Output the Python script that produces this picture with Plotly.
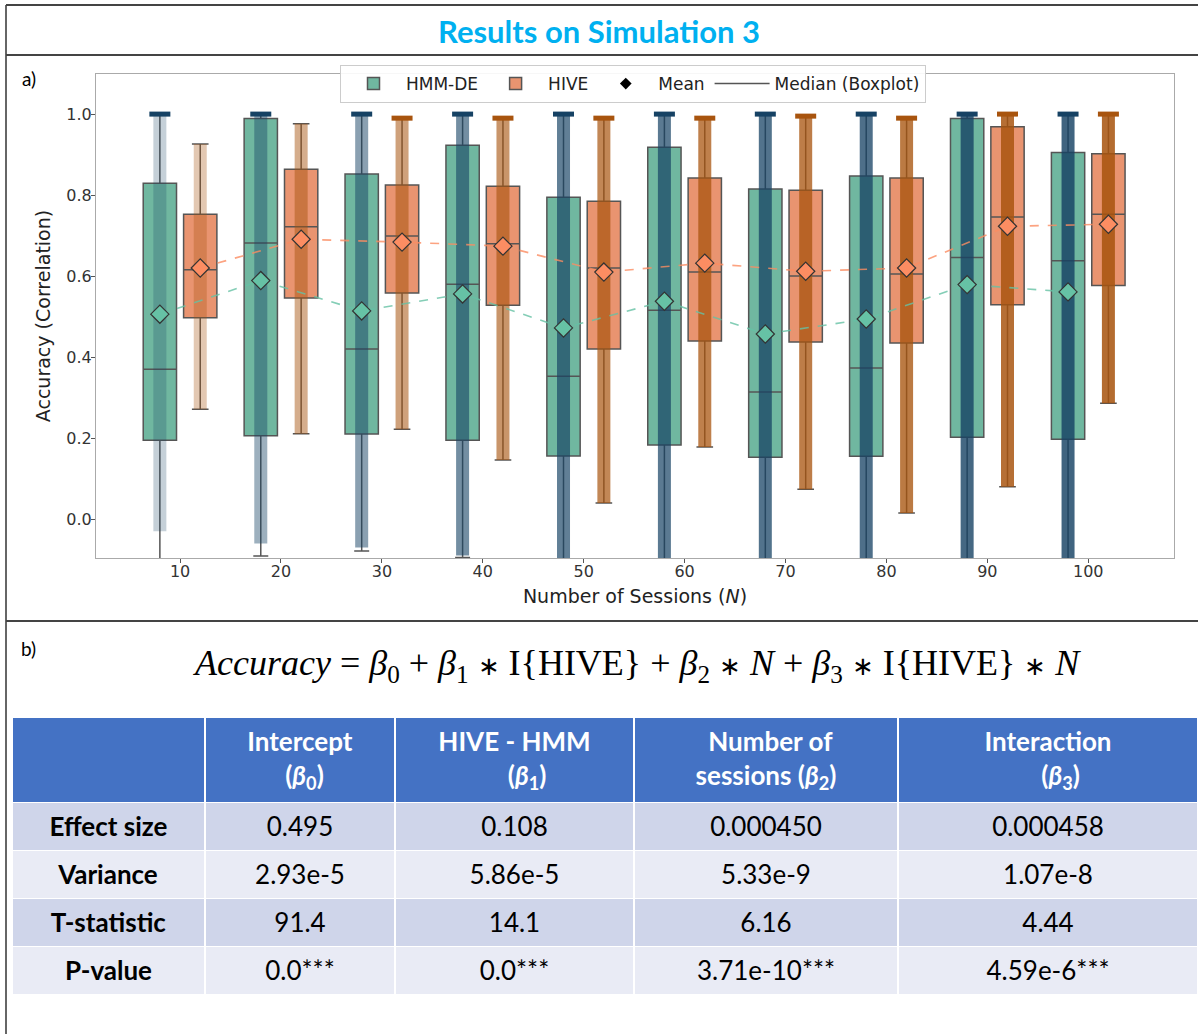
import plotly.graph_objects as go

# ---------------- data ----------------
N = [10, 20, 30, 40, 50, 60, 70, 80, 90, 100]

hmm_q1 = [0.195, 0.206, 0.210, 0.195, 0.156, 0.183, 0.153, 0.155, 0.202, 0.197]
hmm_median = [0.370, 0.682, 0.420, 0.580, 0.353, 0.516, 0.314, 0.373, 0.646, 0.638]
hmm_q3 = [0.829, 0.989, 0.852, 0.923, 0.795, 0.918, 0.815, 0.847, 0.989, 0.905]
hmm_mean = [0.506, 0.589, 0.514, 0.556, 0.472, 0.538, 0.457, 0.494, 0.579, 0.561]
hmm_lowfence = [-0.15, -0.091, -0.079, -0.095, -0.15, -0.15, -0.15, -0.15, -0.15, -0.15]
hmm_highfence = [1.0, 1.0, 1.0, 1.0, 1.0, 1.0, 1.0, 1.0, 1.0, 1.0]
hmm_points_low = [-0.03, -0.06, -0.07, -0.09, -0.15, -0.15, -0.15, -0.15, -0.15, -0.15]
hmm_points_high = [1.0, 1.0, 1.0, 1.0, 1.0, 1.0, 1.0, 1.0, 1.0, 1.0]

hive_q1 = [0.497, 0.546, 0.558, 0.528, 0.420, 0.440, 0.437, 0.435, 0.529, 0.577]
hive_median = [0.616, 0.722, 0.699, 0.680, 0.620, 0.610, 0.600, 0.605, 0.746, 0.753]
hive_q3 = [0.753, 0.864, 0.825, 0.822, 0.785, 0.842, 0.812, 0.842, 0.969, 0.902]
hive_mean = [0.620, 0.691, 0.684, 0.674, 0.610, 0.632, 0.612, 0.620, 0.723, 0.728]
hive_lowfence = [0.271, 0.211, 0.222, 0.146, 0.040, 0.178, 0.074, 0.015, 0.080, 0.286]
hive_highfence = [0.926, 0.976, 0.990, 0.990, 0.990, 0.990, 0.995, 0.990, 1.0, 1.0]

y_ticks = [0.0, 0.2, 0.4, 0.6, 0.8, 1.0]

row_labels = ["Effect size", "Variance", "T-statistic", "P-value"]
coef_headers = [
    ["Intercept", "(<i>β</i><sub>0</sub>)"],
    ["HIVE - HMM", "(<i>β</i><sub>1</sub>)"],
    ["Number of", "sessions (<i>β</i><sub>2</sub>)"],
    ["Interaction", "(<i>β</i><sub>3</sub>)"],
]
effect_size = ["0.495", "0.108", "0.000450", "0.000458"]
variance = ["2.93e-5", "5.86e-5", "5.33e-9", "1.07e-8"]
t_statistic = ["91.4", "14.1", "6.16", "4.44"]
p_value = ["0.0***", "0.0***", "3.71e-10***", "4.59e-6***"]

# ---------------- styles ----------------
W, H = 1198, 1034
DODGE = 2.0
BOX_W = 3.3
STRIP_PX = 13
HMM_FILL = "#70b7a0"
HIVE_FILL = "#e99470"
HMM_C = "#66c2a5"
HIVE_C = "#fc8d62"
HMM_PTS = "22,66,100"
HIVE_PTS = "168,84,14"
HMM_STRIP_ALPHA = [0.25, 0.42, 0.50, 0.60, 0.68, 0.70, 0.74, 0.76, 0.80, 0.82]
HIVE_STRIP_ALPHA = [0.32, 0.48, 0.55, 0.62, 0.70, 0.74, 0.76, 0.78, 0.84, 0.86]
EDGE = "#555555"
AX_FONT = "DejaVu Sans"
TXT_FONT = "Lato"
# leading no-break spaces to visually centre each header line (table lines are left-aligned)
HEADER_PAD = [(0, 6), (0, 11), (2, 0), (0, 9)]
NBSP = "\u00a0"


def px_x(p):
    return p / W


def px_y(p):
    return 1 - p / H


x_hmm = [n - DODGE for n in N]
x_hive = [n + DODGE for n in N]

fig = go.Figure()

# boxes
fig.add_trace(go.Box(
    name="HMM-DE", x=x_hmm, q1=hmm_q1, median=hmm_median, q3=hmm_q3,
    lowerfence=hmm_lowfence, upperfence=hmm_highfence,
    width=BOX_W, whiskerwidth=0.45, boxpoints=False,
    fillcolor=HMM_FILL, line=dict(color=EDGE, width=1.5), legendrank=1,
))
fig.add_trace(go.Box(
    name="HIVE", x=x_hive, q1=hive_q1, median=hive_median, q3=hive_q3,
    lowerfence=hive_lowfence, upperfence=hive_highfence,
    width=BOX_W, whiskerwidth=0.5, boxpoints=False,
    fillcolor=HIVE_FILL, line=dict(color=EDGE, width=1.5), legendrank=2,
))

# strip clouds (dense jittered points shown as translucent bands, drawn over the boxes)
for i in range(len(N)):
    fig.add_trace(go.Scatter(
        x=[x_hmm[i], x_hmm[i]], y=[hmm_points_low[i], hmm_points_high[i]],
        mode="lines", showlegend=False, hoverinfo="skip",
        line=dict(color=f"rgba({HMM_PTS},{HMM_STRIP_ALPHA[i]})", width=STRIP_PX),
    ))
    fig.add_trace(go.Scatter(
        x=[x_hive[i], x_hive[i]], y=[hive_lowfence[i], hive_highfence[i]],
        mode="lines", showlegend=False, hoverinfo="skip",
        line=dict(color=f"rgba({HIVE_PTS},{HIVE_STRIP_ALPHA[i]})", width=STRIP_PX),
    ))

# clusters of points at the ceiling
fig.add_trace(go.Scatter(
    x=x_hmm, y=hmm_points_high, mode="markers", showlegend=False, hoverinfo="skip",
    marker=dict(symbol="line-ew", size=15, line=dict(color=f"rgb({HMM_PTS})", width=5)),
))
cap_hive = [(x, h) for x, h in zip(x_hive, hive_highfence) if h >= 0.99]
fig.add_trace(go.Scatter(
    x=[c[0] for c in cap_hive], y=[c[1] for c in cap_hive], mode="markers",
    showlegend=False, hoverinfo="skip",
    marker=dict(symbol="line-ew", size=15, line=dict(color=f"rgb({HIVE_PTS})", width=5)),
))

# mean trend lines
fig.add_trace(go.Scatter(x=x_hmm, y=hmm_mean, mode="lines", showlegend=False, opacity=0.8,
                         line=dict(color=HMM_C, width=1.6, dash="dash"), hoverinfo="skip"))
fig.add_trace(go.Scatter(x=x_hive, y=hive_mean, mode="lines", showlegend=False, opacity=0.8,
                         line=dict(color=HIVE_C, width=1.6, dash="dash"), hoverinfo="skip"))
# mean markers
fig.add_trace(go.Scatter(x=x_hmm, y=hmm_mean, mode="markers", showlegend=False,
                         marker=dict(symbol="diamond", size=14, color=HMM_C,
                                     line=dict(color="#333333", width=1.2))))
fig.add_trace(go.Scatter(x=x_hive, y=hive_mean, mode="markers", showlegend=False,
                         marker=dict(symbol="diamond", size=14, color=HIVE_C,
                                     line=dict(color="#333333", width=1.2))))

# legend-only entries
fig.add_trace(go.Scatter(x=[None], y=[None], mode="markers", name="Mean", legendrank=3,
                         marker=dict(symbol="diamond", size=9, color="black")))
fig.add_trace(go.Scatter(x=[None], y=[None], mode="lines", name="Median (Boxplot)", legendrank=4,
                         line=dict(color=EDGE, width=1.5)))

# regression table
header_vals = [""] + [
    f"<b>{NBSP * p1}{a}</b><br><b>{NBSP * p2}{b}</b>"
    for (a, b), (p1, p2) in zip(coef_headers, HEADER_PAD)
]
cell_vals = [[f"<b>{r}</b>" for r in row_labels]] + [
    [f"<span>{v}</span>" for v in (effect_size[j], variance[j], t_statistic[j], p_value[j])]
    for j in range(4)
]
row_fill = ["#cfd5ea", "#e9ebf5", "#cfd5ea", "#e9ebf5"]
fig.add_trace(go.Table(
    domain=dict(x=[px_x(12), 1.0], y=[0.0, px_y(717)]),
    columnwidth=[193, 190, 239, 264, 300],
    header=dict(values=header_vals, height=80, fill_color="#4472c4",
                line=dict(color="white", width=1.5), align="center",
                font=dict(family=TXT_FONT, size=26, color="white")),
    cells=dict(values=cell_vals, height=48, fill_color=[row_fill] * 5,
               line=dict(color="white", width=1.5), align="center",
               font=dict(family=TXT_FONT, size=26, color="black")),
))

frame = dict(color="#444444", width=2)
shapes = [
    dict(type="line", xref="paper", yref="paper", x0=px_x(6), x1=px_x(6), y0=0, y1=px_y(5), line=dict(color="#666666", width=2)),
    dict(type="line", xref="paper", yref="paper", x0=px_x(6), x1=1, y0=px_y(5), y1=px_y(5), line=frame),
    dict(type="line", xref="paper", yref="paper", x0=px_x(6), x1=1, y0=px_y(55), y1=px_y(55), line=frame),
    dict(type="line", xref="paper", yref="paper", x0=px_x(6), x1=1, y0=px_y(621), y1=px_y(621), line=frame),
]

STAR = '<span style="font-size:26px">∗</span>'
annotations = [
    dict(text="<b>Results on Simulation 3</b>", x=0.5, y=px_y(31), xref="paper", yref="paper",
         showarrow=False, xanchor="center", yanchor="middle",
         font=dict(family=TXT_FONT, size=31, color="#00b0f0")),
    dict(text="a)", x=px_x(20), y=px_y(79), xref="paper", yref="paper", showarrow=False,
         xanchor="left", yanchor="middle", font=dict(family=TXT_FONT, size=19, color="black")),
    dict(text="b)", x=px_x(19), y=px_y(648), xref="paper", yref="paper", showarrow=False,
         xanchor="left", yanchor="middle", font=dict(family=TXT_FONT, size=19, color="black")),
    dict(text=(f"<i>Accuracy</i> = <i>β</i><sub>0</sub> + <i>β</i><sub>1</sub> {STAR} I{{HIVE}} + "
               f"<i>β</i><sub>2</sub> {STAR} <i>N</i> + <i>β</i><sub>3</sub> {STAR} I{{HIVE}} {STAR} <i>N</i>"),
         x=px_x(637), y=px_y(665), xref="paper", yref="paper", showarrow=False,
         xanchor="center", yanchor="middle",
         font=dict(family="Liberation Serif", size=36, color="black")),
]

fig.update_layout(
    width=W, height=H, margin=dict(l=0, r=0, t=0, b=0),
    paper_bgcolor="white", plot_bgcolor="white",
    boxmode="overlay",
    shapes=shapes, annotations=annotations,
    showlegend=True,
    legend=dict(orientation="h", x=px_x(633), y=px_y(65), xanchor="center", yanchor="top",
                bgcolor="rgba(255,255,255,0.9)", bordercolor="#cccccc", borderwidth=1,
                itemwidth=55, font=dict(family=AX_FONT, size=17, color="#222222"),
                traceorder="normal"),
    xaxis=dict(domain=[px_x(96), px_x(1174)], range=[1.67, 108.5],
               tickvals=N, ticktext=[str(n) for n in N], ticks="outside", ticklen=4,
               ticklabelstandoff=-5,
               tickcolor="#555555", showline=True, mirror=True, linecolor="#aaaaaa",
               linewidth=1.2, showgrid=False, zeroline=False,
               tickfont=dict(family=AX_FONT, size=16, color="#333333"),
               title=dict(text="Number of Sessions (<i>N</i>)", standoff=9,
                          font=dict(family=AX_FONT, size=19, color="#222222"))),
    yaxis=dict(domain=[px_y(558), px_y(74)], range=[-0.096, 1.099],
               tickvals=y_ticks, ticktext=[f"{v:.1f}" for v in y_ticks], ticks="outside",
               ticklen=4, ticklabelstandoff=-4,
               tickcolor="#555555", showline=True, mirror=True,
               linecolor="#aaaaaa", linewidth=1.2, showgrid=False, zeroline=False,
               tickfont=dict(family=AX_FONT, size=16, color="#333333"),
               title=dict(text="Accuracy (Correlation)", standoff=10,
                          font=dict(family=AX_FONT, size=19, color="#222222"))),
)

fig.write_html("out.html", config={"displayModeBar": False},
               post_script="document.body.style.margin='0px';")
